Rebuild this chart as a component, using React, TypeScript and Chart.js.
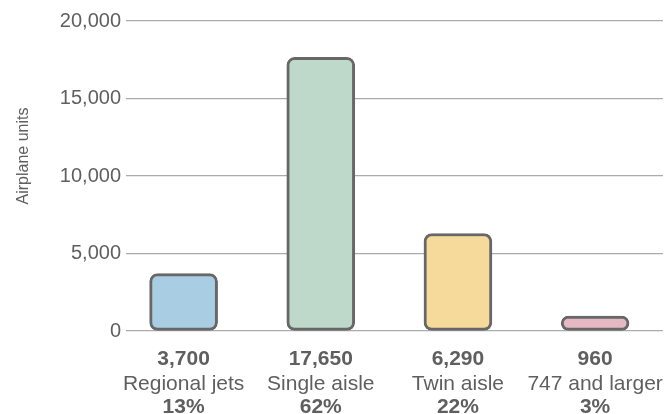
import React, { useEffect, useRef } from "react";
import { Chart, registerables } from "chart.js";

Chart.register(...registerables);

// Airplane demand by size class
const categories = ["Regional jets", "Single aisle", "Twin aisle", "747 and larger"];
const units = [3700, 17650, 6290, 960];
const shares = ["13%", "62%", "22%", "3%"];
const fillColors = ["#a9cee4", "#bed8ca", "#f5da9c", "#e5b9c3"];
const yTicks = [0, 5000, 10000, 15000, 20000];

const TEXT = "#5f5f5f";
const FONT = "'Liberation Sans', Arial, Helvetica, sans-serif";

const fmt = (v: number) => v.toLocaleString("en-US");

// Draws the three-line label (value / name / share) under every bar,
// plus the rotated y-axis title.
const labelsPlugin = {
  id: "barLabels",
  afterDraw(chart: any) {
    const { ctx } = chart;
    const x = chart.scales.x;
    const right = chart.width;
    ctx.save();
    ctx.fillStyle = TEXT;
    ctx.textBaseline = "alphabetic";
    ctx.textAlign = "center";
    categories.forEach((name, i) => {
      const cx = x.getPixelForValue(i);
      ctx.font = `21px ${FONT}`;
      const w = ctx.measureText(name).width;
      const nameX = Math.min(cx, right - w / 2);
      ctx.font = `bold 21px ${FONT}`;
      ctx.fillText(fmt(units[i]), cx, 365);
      ctx.font = `21px ${FONT}`;
      ctx.fillText(name, nameX, 389.5);
      ctx.font = `bold 21px ${FONT}`;
      ctx.fillText(shares[i], cx, 413);
    });
    // y-axis title
    ctx.translate(24, 156);
    ctx.rotate(-Math.PI / 2);
    ctx.font = `16px ${FONT}`;
    ctx.textAlign = "center";
    ctx.textBaseline = "middle";
    ctx.fillText("Airplane units", 0, 0);
    ctx.restore();
  },
};

export default function App() {
  const ref = useRef<HTMLCanvasElement>(null);

  useEffect(() => {
    if (!ref.current) return;
    const chart = new Chart(ref.current, {
      type: "bar",
      data: {
        datasets: [
          {
            data: units.map((v, i) => ({ x: i, y: v })),
            backgroundColor: fillColors,
            borderColor: "#676767",
            borderWidth: 3,
            borderRadius: 8,
            borderSkipped: false,
            barThickness: 68,
          },
        ],
      },
      options: {
        animation: false,
        responsive: true,
        maintainAspectRatio: false,
        layout: { padding: { top: 21, right: 2, bottom: 83, left: 0 } },
        plugins: { legend: { display: false }, tooltip: { enabled: false } },
        scales: {
          x: {
            type: "linear",
            display: false,
            offset: false,
            min: -0.42,
            max: 3.495,
          },
          y: {
            min: 0,
            max: 20000,
            afterFit: (s: any) => {
              s.width = 126;
            },
            afterBuildTicks: (s: any) => {
              s.ticks = yTicks.map((v) => ({ value: v }));
            },
            border: { display: false },
            grid: {
              color: "#ababab",
              lineWidth: 1.2,
              drawTicks: false,
            },
            ticks: {
              padding: 5,
              color: TEXT,
              font: { family: FONT, size: 20 },
              callback: (v: any) => fmt(Number(v)),
            },
          },
        },
      },
      plugins: [labelsPlugin],
    });
    return () => chart.destroy();
  }, []);

  return (
    <div style={{ position: "absolute", left: 0, top: 0, width: 665, height: 414 }}>
      <canvas ref={ref} />
    </div>
  );
}
